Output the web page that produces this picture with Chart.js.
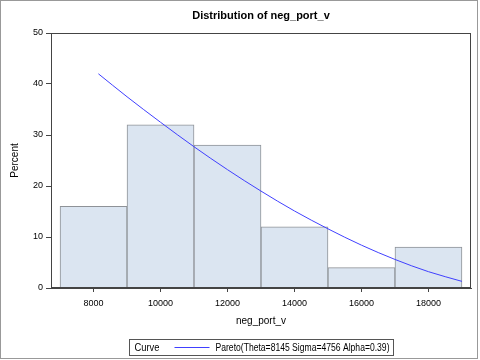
<!DOCTYPE html>
<html>
<head>
<meta charset="utf-8">
<script src="https://cdn.jsdelivr.net/npm/chart.js@4"></script>
<style>
  html, body { margin: 0; padding: 0; background: #fff; }
</style>
</head>
<body>
<canvas id="c" width="480" height="360"></canvas>
<script>
const FONT = "'Liberation Sans', Arial, sans-serif";

// histogram bins (midpoints) and percent per bin
const binCenters = [8000, 10000, 12000, 14000, 16000, 18000];
const binPercents = [16, 32, 28, 12, 4, 8];

// fitted Pareto curve
const curveX = [8145, 9000, 10000, 11000, 12000, 13000, 14000, 15000, 16000, 17000, 18000, 19000];
const curveY = [42.0, 37.5, 32.5, 27.7, 23.2, 19.0, 15.1, 11.6, 8.4, 5.6, 3.2, 1.3];

const xTicks = [8000, 10000, 12000, 14000, 16000, 18000];
const yTicks = [0, 10, 20, 30, 40, 50];

const curveLabel = 'Pareto(Theta=8145 Sigma=4756 Alpha=0.39)';

// draw text squeezed to a given width (the original uses a narrow font)
function narrowText(ctx, text, x, y, w) {
  const m = ctx.measureText(text).width;
  const k = Math.min(1, w / m);
  ctx.save();
  ctx.translate(x, y);
  ctx.scale(k, 1);
  ctx.fillText(text, 0, 0);
  ctx.restore();
}

// frame around the plot, outer border and the boxed legend at the bottom
const framePlugin = {
  id: 'frame',
  afterDraw(chart) {
    const { ctx, chartArea: a } = chart;
    ctx.save();
    ctx.strokeStyle = '#444';
    ctx.lineWidth = 1;
    ctx.strokeRect(Math.round(a.left) + 0.5, Math.round(a.top) + 0.5,
      Math.round(a.right - a.left) - 1, Math.round(a.bottom - a.top) - 1);

    ctx.strokeStyle = '#999';
    ctx.strokeRect(0.5, 0.5, 477, 358);

    // legend
    const cx = (a.left + a.right) / 2;
    const bx = Math.round(cx - 132) + 0.5, by = 339.5;
    ctx.strokeStyle = '#555';
    ctx.strokeRect(bx, by, 264, 16);
    ctx.fillStyle = '#000';
    ctx.textBaseline = 'middle';
    ctx.font = '11px ' + FONT;
    narrowText(ctx, 'Curve', bx + 5, by + 8.5, 25);
    ctx.strokeStyle = '#4040ff';
    ctx.beginPath();
    ctx.moveTo(bx + 45, by + 8);
    ctx.lineTo(bx + 80, by + 8);
    ctx.stroke();
    ctx.font = '10px ' + FONT;
    narrowText(ctx, chart.data.datasets[0].label, bx + 86, by + 8.5, 174);
    ctx.restore();
  }
};

new Chart(document.getElementById('c'), {
  data: {
    datasets: [
      {
        type: 'line',
        label: curveLabel,
        data: curveX.map((x, i) => ({ x: x, y: curveY[i] })),
        borderColor: '#4040ff',
        borderWidth: 1,
        pointRadius: 0,
        cubicInterpolationMode: 'monotone',
        order: 0
      },
      {
        type: 'bar',
        label: 'Percent',
        data: binCenters.map((x, i) => ({ x: x, y: binPercents[i] })),
        backgroundColor: '#dbe5f1',
        borderColor: '#8e9297',
        borderWidth: 1,
        barPercentage: 1,
        categoryPercentage: 1,
        order: 1
      }
    ]
  },
  options: {
    responsive: false,
    animation: false,
    layout: { padding: { left: 0, right: 9, top: 0, bottom: 27 } },
    plugins: {
      legend: { display: false },
      tooltip: { enabled: false },
      title: {
        display: true,
        fullSize: false,
        text: 'Distribution of neg_port_v',
        color: '#000',
        font: { family: FONT, size: 11, weight: 'bold' },
        padding: { top: 9, bottom: 10.8 }
      }
    },
    scales: {
      x: {
        type: 'linear',
        offset: false,
        min: 6730,
        max: 19270,
        afterBuildTicks: s => { s.ticks = xTicks.map(v => ({ value: v })); },
        afterFit: s => { s.height = 45; },
        grid: { drawOnChartArea: false, offset: false, tickLength: 4, color: '#444' },
        border: { display: true, color: '#444' },
        ticks: {
          color: '#000',
          font: { family: FONT, size: 9 },
          padding: 6,
          maxRotation: 0,
          callback: v => String(v)
        },
        title: {
          display: true,
          text: 'neg_port_v',
          color: '#000',
          font: { family: FONT, size: 10 },
          padding: { top: 0, bottom: 6 }
        }
      },
      y: {
        min: 0,
        max: 50,
        afterBuildTicks: s => { s.ticks = yTicks.map(v => ({ value: v })); },
        afterFit: s => { s.width = 51; },
        grid: { drawOnChartArea: false, tickLength: 5, color: '#444' },
        border: { display: true, color: '#444' },
        ticks: { color: '#000', font: { family: FONT, size: 9 }, padding: 3 },
        title: {
          display: true,
          text: 'Percent',
          color: '#000',
          font: { family: FONT, size: 10 },
          padding: { top: 9, bottom: 0 }
        }
      }
    }
  },
  plugins: [framePlugin]
});
</script>
</body>
</html>
